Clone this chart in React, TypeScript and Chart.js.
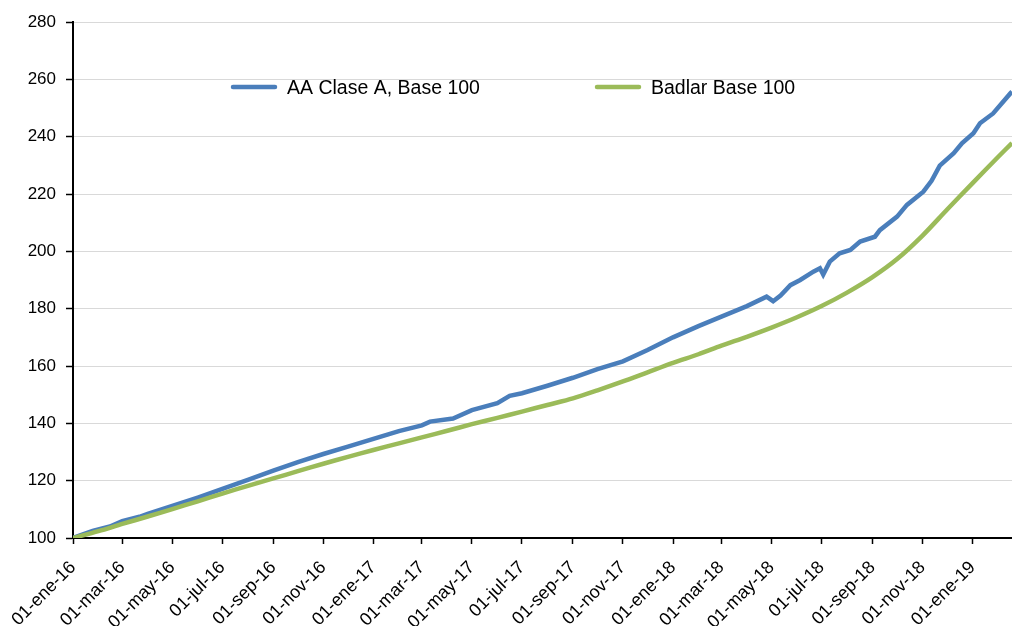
import React, { useEffect, useRef } from 'react';
import { Chart, registerables } from 'chart.js';

Chart.register(...registerables);

// ---------- Data ----------
const startDate = '2016-01-01';
const endDate = '2019-02-18';

const tickDates = [
  '2016-01-01', '2016-03-01', '2016-05-01', '2016-07-01', '2016-09-01', '2016-11-01',
  '2017-01-01', '2017-03-01', '2017-05-01', '2017-07-01', '2017-09-01', '2017-11-01',
  '2018-01-01', '2018-03-01', '2018-05-01', '2018-07-01', '2018-09-01', '2018-11-01',
  '2019-01-01',
];
const tickLabels = [
  '01-ene-16', '01-mar-16', '01-may-16', '01-jul-16', '01-sep-16', '01-nov-16',
  '01-ene-17', '01-mar-17', '01-may-17', '01-jul-17', '01-sep-17', '01-nov-17',
  '01-ene-18', '01-mar-18', '01-may-18', '01-jul-18', '01-sep-18', '01-nov-18',
  '01-ene-19',
];

const yMin = 100;
const yMax = 280;
const yStep = 20;

const seriesNames = ['AA Clase A, Base 100', 'Badlar Base 100'];

const aaDates = [
  '2016-01-01', '2016-01-25', '2016-02-15', '2016-03-01', '2016-03-22', '2016-04-01',
  '2016-05-01', '2016-06-01', '2016-07-01', '2016-08-01', '2016-09-01', '2016-10-01',
  '2016-11-01', '2016-12-01',
  '2017-01-01', '2017-02-01', '2017-03-01', '2017-03-11', '2017-04-08', '2017-05-01',
  '2017-06-01', '2017-06-16', '2017-07-01', '2017-08-01', '2017-09-01', '2017-10-01',
  '2017-11-01', '2017-12-01',
  '2018-01-01', '2018-02-01', '2018-03-01', '2018-04-01', '2018-04-25', '2018-05-03',
  '2018-05-12', '2018-05-24', '2018-06-05', '2018-06-21', '2018-06-29', '2018-07-03',
  '2018-07-11', '2018-07-23', '2018-08-05', '2018-08-17', '2018-09-04', '2018-09-10',
  '2018-10-01', '2018-10-13', '2018-11-02', '2018-11-12', '2018-11-22', '2018-12-09',
  '2018-12-19',
  '2019-01-02', '2019-01-10', '2019-01-26', '2019-02-16', '2019-02-18',
];
const aaValues = [
  100.0, 102.5, 104.0, 105.9, 107.4, 108.4,
  111.2, 114.1, 117.1, 120.3, 123.5, 126.5,
  129.3, 131.9,
  134.6, 137.3, 139.3, 140.6, 141.7, 144.6,
  147.0, 149.6, 150.5, 153.1, 155.9, 158.9,
  161.6, 165.6,
  170.0, 173.9, 177.2, 180.9, 184.2, 182.6,
  184.6, 188.2, 190.0, 192.9, 194.1, 191.9,
  196.4, 199.3, 200.5, 203.4, 205.1, 207.4,
  212.1, 216.2, 220.8, 224.6, 229.9, 234.2,
  237.7,
  241.2, 244.7, 248.1, 255.1, 255.7,
];

const badlarDates = [
  '2016-01-01', '2016-02-01', '2016-03-01', '2016-04-01', '2016-05-01', '2016-06-01',
  '2016-07-01', '2016-08-01', '2016-09-01', '2016-10-01', '2016-11-01', '2016-12-01',
  '2017-01-01', '2017-02-01', '2017-03-01', '2017-04-01', '2017-05-01', '2017-06-01',
  '2017-07-01', '2017-08-01', '2017-09-01', '2017-10-01', '2017-11-01', '2017-12-01',
  '2018-01-01', '2018-02-01', '2018-03-01', '2018-04-01', '2018-05-01', '2018-06-01',
  '2018-07-01', '2018-08-01', '2018-09-01', '2018-10-01', '2018-11-01', '2018-12-01',
  '2019-01-01', '2019-02-01', '2019-02-18',
];
const badlarValues = [
  100.0, 102.4, 104.9, 107.5, 110.1, 112.8,
  115.5, 118.2, 120.8, 123.3, 125.9, 128.3,
  130.7, 133.0, 135.1, 137.4, 139.7, 141.9,
  144.1, 146.4, 148.7, 151.5, 154.6, 157.8,
  161.1, 164.1, 167.1, 170.2, 173.4, 177.0,
  180.9, 185.6, 191.0, 197.3, 205.5, 214.6,
  223.8, 232.9, 237.8,
];

// ---------- Helpers ----------
function dayIndex(s: string): number {
  const [y, m, d] = s.split('-').map(Number);
  const [y0, m0, d0] = startDate.split('-').map(Number);
  return Math.round((Date.UTC(y, m - 1, d) - Date.UTC(y0, m0 - 1, d0)) / 86400000);
}

const FONT = "'Liberation Sans', Arial, sans-serif";

const insideLegend = {
  id: 'insideLegend',
  afterDatasetsDraw(chart: any, _args: any, opts: any) {
    const ctx = chart.ctx;
    chart.data.datasets.forEach((ds: any, i: number) => {
      const x = opts.xs[i];
      ctx.save();
      ctx.strokeStyle = ds.borderColor;
      ctx.lineWidth = opts.lineWidth;
      ctx.lineCap = 'round';
      ctx.beginPath();
      ctx.moveTo(x, opts.lineY);
      ctx.lineTo(x + opts.lineLength, opts.lineY);
      ctx.stroke();
      ctx.fillStyle = '#000';
      ctx.font = opts.font;
      ctx.textAlign = 'left';
      ctx.textBaseline = 'alphabetic';
      ctx.fillText(ds.label, x + opts.lineLength + opts.gap, opts.textBaseline);
      ctx.restore();
    });
  },
};

export default function App() {
  const ref = useRef<HTMLCanvasElement>(null);

  useEffect(() => {
    if (!ref.current) return;
    const aaPoints = aaDates.map((d, i) => ({ x: dayIndex(d), y: aaValues[i] }));
    const badlarPoints = badlarDates.map((d, i) => ({ x: dayIndex(d), y: badlarValues[i] }));

    const chart = new Chart(ref.current, {
      type: 'line',
      data: {
        datasets: [
          {
            label: seriesNames[0],
            data: aaPoints,
            borderColor: '#4A7EBB',
            backgroundColor: '#4A7EBB',
            borderWidth: 4.5,
            pointRadius: 0,
            tension: 0,
            order: 1,
          },
          {
            label: seriesNames[1],
            data: badlarPoints,
            borderColor: '#9BBB59',
            backgroundColor: '#9BBB59',
            borderWidth: 4.5,
            pointRadius: 0,
            tension: 0.3,
            order: 0,
          },
        ],
      },
      options: {
        responsive: false,
        animation: false,
        layout: { padding: { top: 22, right: 0, left: 0, bottom: 0 } },
        plugins: {
          legend: { display: false },
          tooltip: { enabled: false },
          insideLegend: {
            xs: [233, 597],
            lineY: 87,
            textBaseline: 94,
            lineLength: 42,
            gap: 12,
            lineWidth: 4.5,
            font: `19.5px ${FONT}`,
          },
        } as any,
        scales: {
          x: {
            type: 'linear',
            min: 0,
            max: dayIndex(endDate),
            afterBuildTicks: (scale: any) => {
              scale.ticks = tickDates.map((d) => ({ value: dayIndex(d) }));
            },
            afterFit: (scale: any) => {
              scale.height = 88;
            },
            grid: {
              display: true,
              drawOnChartArea: false,
              drawTicks: true,
              tickLength: 6,
              tickColor: '#000',
              tickWidth: 1.5,
            },
            border: { display: true, color: '#000', width: 2 },
            ticks: {
              autoSkip: false,
              maxRotation: 45,
              minRotation: 45,
              padding: 13,
              color: '#000',
              font: { family: FONT, size: 18 },
              callback: (_v: any, i: number) => tickLabels[i],
            },
          },
          y: {
            type: 'linear',
            min: yMin,
            max: yMax,
            afterFit: (scale: any) => {
              scale.width = 73;
            },
            grid: {
              color: '#D9D9D9',
              lineWidth: 1,
              drawTicks: true,
              tickLength: 7,
              tickColor: '#000',
              tickWidth: 1.5,
            },
            border: { display: true, color: '#000', width: 2 },
            ticks: {
              stepSize: yStep,
              padding: 10,
              color: '#000',
              font: { family: FONT, size: 17 },
            },
          },
        },
      },
      plugins: [insideLegend],
    } as any);

    return () => chart.destroy();
  }, []);

  return (
    <div style={{ position: 'absolute', left: 0, top: 0, width: 1012, height: 626, background: '#fff' }}>
      <canvas ref={ref} width={1012} height={626} style={{ display: 'block' }} />
    </div>
  );
}
